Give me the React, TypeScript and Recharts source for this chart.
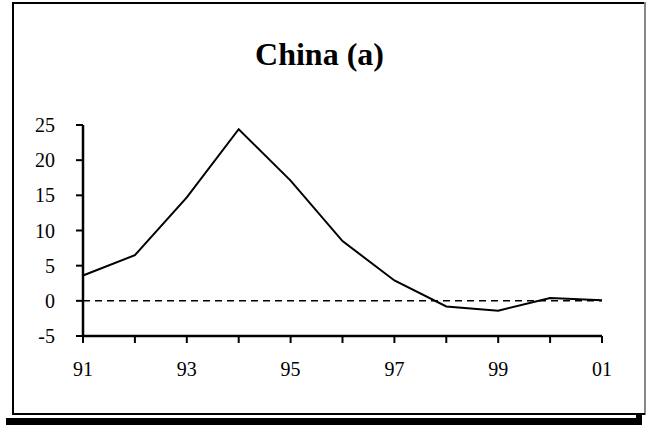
import React from 'react';
import { LineChart, Line, XAxis, YAxis, ReferenceLine } from 'recharts';

const years = ['91', '92', '93', '94', '95', '96', '97', '98', '99', '00', '01'];
const values = [3.6, 6.5, 14.7, 24.4, 17.1, 8.5, 2.9, -0.8, -1.4, 0.4, 0.1];
const yTicks = [-5, 0, 5, 10, 15, 20, 25];
const title = 'China (a)';

const data = years.map((y, i) => ({ year: y, value: values[i] }));

const FONT = '"Liberation Serif", "Times New Roman", serif';

export default function App() {
  return (
    <div style={{ position: 'absolute', left: 0, top: 0, width: 646, height: 425, background: '#fff', fontFamily: FONT }}>
      {/* frame */}
      <div style={{ position: 'absolute', left: 12, top: 2, width: 633, height: 2, background: '#000' }} />
      <div style={{ position: 'absolute', left: 12, top: 2, width: 2, height: 413, background: '#000' }} />
      <div style={{ position: 'absolute', left: 644, top: 2, width: 1.5, height: 413, background: '#888' }} />
      <div style={{ position: 'absolute', left: 12, top: 413, width: 633, height: 2, background: '#000' }} />
      <div style={{ position: 'absolute', left: 6, top: 418, width: 631, height: 7, background: '#000' }} />
      <div style={{ position: 'absolute', left: 636, top: 415, width: 6, height: 10, background: '#000' }} />
      <div style={{ position: 'absolute', left: 0, top: 38, width: 639, textAlign: 'center', fontSize: 32, lineHeight: '32px', fontWeight: 'bold', color: '#000' }}>
        {title}
      </div>
      <div style={{ position: 'absolute', left: 0, top: 0 }}>
        <LineChart width={646} height={425} data={data} margin={{ top: 125, right: 44, bottom: 59, left: 23 }}>
          <XAxis
            dataKey="year"
            interval={0}
            axisLine={{ stroke: '#000', strokeWidth: 2.5 }}
            tickLine={{ stroke: '#000', strokeWidth: 2 }}
            tickSize={7}
            tickMargin={19}
            height={30}
            tickFormatter={(v: string, i: number) => (i % 2 === 0 ? v : '')}
            tick={{ fill: '#000', fontSize: 20, fontFamily: FONT }}
          />
          <YAxis
            domain={[-5, 25]}
            ticks={yTicks}
            interval={0}
            width={60}
            axisLine={{ stroke: '#000', strokeWidth: 2.5 }}
            tickLine={{ stroke: '#000', strokeWidth: 2 }}
            tickSize={7}
            tickMargin={21}
            tick={{ fill: '#000', fontSize: 20, fontFamily: FONT }}
          />
          <ReferenceLine y={0} stroke="#000" strokeWidth={1.5} strokeDasharray="7 5" />
          <Line type="linear" dataKey="value" stroke="#000" strokeWidth={2} dot={false} isAnimationActive={false} />
        </LineChart>
      </div>
    </div>
  );
}
